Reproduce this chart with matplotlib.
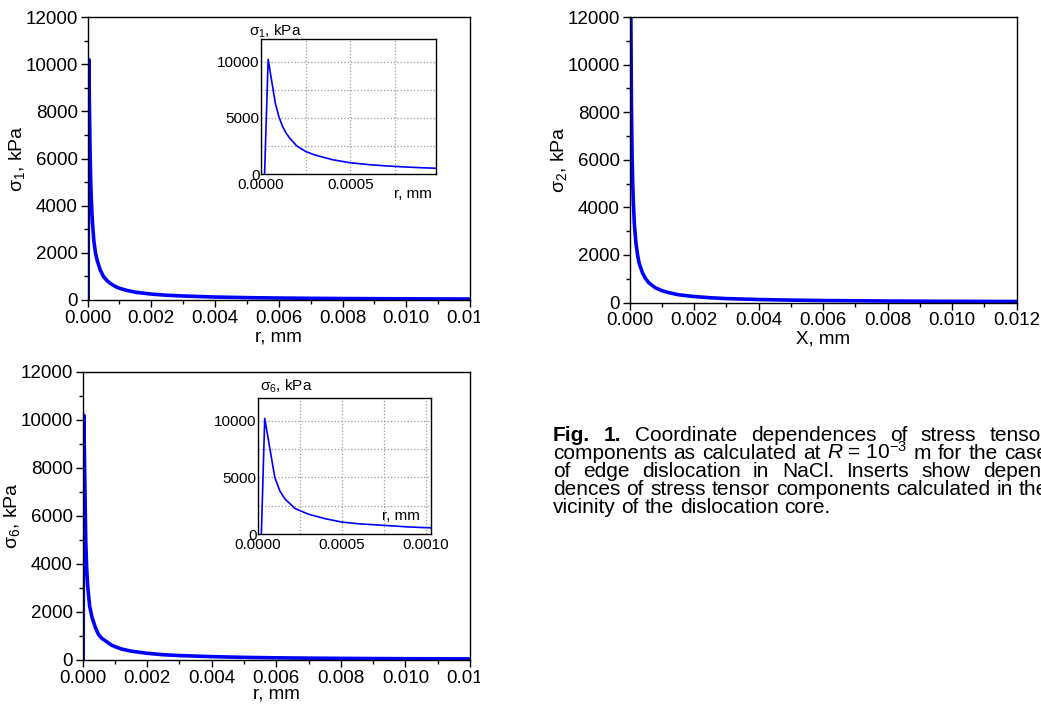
import numpy as np
import matplotlib
matplotlib.use("Agg")
import matplotlib.pyplot as plt
from matplotlib.ticker import FixedLocator, FormatStrFormatter
from matplotlib.transforms import Bbox, TransformedBbox

plt.rcParams['font.family'] = ['Liberation Sans', 'DejaVu Sans']
plt.rcParams['mathtext.fontset'] = 'custom'
plt.rcParams['mathtext.rm'] = 'Liberation Sans'
plt.rcParams['mathtext.it'] = 'Liberation Sans:italic'
plt.rcParams['mathtext.bf'] = 'Liberation Sans:bold'
plt.rcParams['mathtext.default'] = 'regular'

# sigma_1 vs r (mm), kPa
r1 = [0.00002, 0.00004, 0.00008, 0.0001, 0.00012, 0.00014, 0.00016, 0.0002, 0.00025,
      0.0003, 0.0004, 0.0005, 0.0006, 0.0007, 0.0008, 0.0009, 0.001, 0.0012, 0.0015,
      0.002, 0.0025, 0.003, 0.004, 0.005, 0.006, 0.007, 0.008, 0.009, 0.01, 0.011, 0.012]
s1 = [0, 10200, 6300, 5100, 4250, 3650, 3200, 2500, 2000,
      1700, 1270, 1000, 840, 720, 630, 555, 500, 420, 330,
      250, 200, 170, 125, 100, 83, 72, 62, 56, 50, 46, 42]

# sigma_2 vs X (mm), kPa
x2 = [0.00002, 0.00004, 0.00006, 0.00008, 0.0001, 0.00012, 0.00015, 0.0002, 0.00025,
      0.0003, 0.0004, 0.0005, 0.0006, 0.0008, 0.001, 0.0012, 0.0015, 0.002, 0.0025,
      0.003, 0.004, 0.005, 0.006, 0.008, 0.01, 0.012]
s2 = [25000, 12500, 8300, 6200, 5000, 4200, 3300, 2500, 2000,
      1650, 1250, 1000, 830, 620, 500, 420, 330, 250, 200,
      165, 125, 100, 83, 62, 50, 42]

# sigma_6 vs r (mm), kPa
r6 = [0.00002, 0.00004, 0.0001, 0.00013, 0.00016, 0.00022, 0.0003, 0.0004, 0.0005,
      0.0006, 0.00075, 0.0009, 0.001, 0.0012, 0.0015, 0.002, 0.0025, 0.003, 0.004,
      0.005, 0.006, 0.007, 0.008, 0.009, 0.01, 0.011, 0.012]
s6 = [0, 10200, 5000, 3800, 3100, 2250, 1750, 1350, 1050,
      900, 760, 620, 560, 460, 370, 280, 220, 185, 140,
      110, 90, 78, 68, 60, 54, 50, 46]

main_xticks = [0, 0.002, 0.004, 0.006, 0.008, 0.010, 0.012]
main_xminor = [0.001, 0.003, 0.005, 0.007, 0.009, 0.011]
main_yticks = [0, 2000, 4000, 6000, 8000, 10000, 12000]
main_yminor = [1000, 3000, 5000, 7000, 9000, 11000]
ins_yticks = [0, 5000, 10000]
ins_yminor = [2500, 7500]
ins_xminor = [0.00025, 0.00075]

caption = [
    [("Fig.", "bold"), ("1.", "bold"), ("Coordinate", "normal"), ("dependences", "normal"),
     ("of", "normal"), ("stress", "normal"), ("tensor", "normal")],
    [("components", "normal"), ("as", "normal"), ("calculated", "normal"), ("at", "normal"),
     (r"$\mathit{R}$ = 10$^{-3}$", "normal"), ("m", "normal"), ("for", "normal"),
     ("the", "normal"), ("case", "normal")],
    [("of", "normal"), ("edge", "normal"), ("dislocation", "normal"), ("in", "normal"),
     ("NaCl.", "normal"), ("Inserts", "normal"), ("show", "normal"), ("depen-", "normal")],
    [("dences", "normal"), ("of", "normal"), ("stress", "normal"), ("tensor", "normal"),
     ("components", "normal"), ("calculated", "normal"), ("in", "normal"), ("the", "normal")],
    [("vicinity", "normal"), ("of", "normal"), ("the", "normal"), ("dislocation", "normal"),
     ("core.", "normal")],
]

W, H = 1041, 709
BLUE = '#0000ff'
fig = plt.figure(figsize=(W / 100, H / 100), dpi=100)


def rect(l, t, r, b):
    return [l / W, 1 - b / H, (r - l) / W, (b - t) / H]


def main_axes(box, x, y, ylab, xlab, xlabpad):
    ax = fig.add_axes(rect(*box))
    ax.plot(x, y, color=BLUE, lw=2.6, solid_joinstyle='round')
    ax.set_xlim(0, 0.012)
    ax.set_ylim(0, 12000)
    ax.xaxis.set_major_locator(FixedLocator(main_xticks))
    ax.xaxis.set_minor_locator(FixedLocator(main_xminor))
    ax.yaxis.set_major_locator(FixedLocator(main_yticks))
    ax.yaxis.set_minor_locator(FixedLocator(main_yminor))
    ax.xaxis.set_major_formatter(FormatStrFormatter('%.3f'))
    ax.yaxis.set_major_formatter(FormatStrFormatter('%d'))
    ax.tick_params(which='major', direction='out', length=5, width=1,
                   labelsize=13.5, pad=2)
    ax.tick_params(which='minor', direction='out', length=3, width=1)
    for s in ax.spines.values():
        s.set_linewidth(1)
    ax.set_ylabel(ylab, fontsize=14, labelpad=-1)
    ax.set_xlabel(xlab, fontsize=13.5, labelpad=xlabpad)
    return ax


def inset_axes(box, x, y, xmax, xticks):
    ax = fig.add_axes(rect(*box))
    ax.plot(x, y, color=BLUE, lw=1.2)
    ax.set_xlim(0, xmax)
    ax.set_ylim(0, 12000)
    ax.xaxis.set_major_locator(FixedLocator(xticks))
    ax.xaxis.set_minor_locator(FixedLocator(ins_xminor))
    ax.yaxis.set_major_locator(FixedLocator(ins_yticks))
    ax.yaxis.set_minor_locator(FixedLocator(ins_yminor))
    ax.xaxis.set_major_formatter(FormatStrFormatter('%.4f'))
    ax.yaxis.set_major_formatter(FormatStrFormatter('%d'))
    ax.tick_params(which='both', direction='in', length=0, labelsize=11, pad=1)
    ax.tick_params(axis='x', pad=3)
    ax.grid(True, which='both', linestyle=':', color='#999999', linewidth=0.9)
    ax.set_axisbelow(True)
    for s in ax.spines.values():
        s.set_linewidth(1)
    return ax


ax1 = main_axes((87.5, 17, 470, 300), r1, s1, 'σ$_1$, kPa', 'r, mm', 1)
ax2 = main_axes((629.5, 17, 1016.5, 302.5), x2, s2, 'σ$_2$, kPa', 'X, mm', 1)
ax6 = main_axes((82.5, 372, 470, 660), r6, s6, 'σ$_6$, kPa', 'r, mm', -1)

in1 = inset_axes((261, 39, 436, 174), r1, s1, 0.00098, [0, 0.0005])
in1.text(0.00085, -1750, 'r, mm', fontsize=11, ha='center', va='center')
in6 = inset_axes((258, 398, 431, 534), r6, s6, 0.00103, [0, 0.0005, 0.001])
in6.text(0.00085, 1550, 'r, mm', fontsize=11, ha='center', va='center')

fig.text(249 / W, 1 - 31 / H, 'σ$_1$, kPa', fontsize=11, ha='left', va='center')
fig.text(260 / W, 1 - 386 / H, 'σ$_6$, kPa', fontsize=11, ha='left', va='center')

# left panels are cut off at the right edge in the source image
clip = TransformedBbox(Bbox([[0, 0], [480 / W, 1]]), fig.transFigure)
for ax in (ax1, ax6):
    lab = ax.xaxis.get_major_ticks()[-1].label1
    lab.set_clip_box(clip)
    lab.set_clip_on(True)

# justified caption
renderer = fig.canvas.get_renderer()
FS = 15
L, R = 553, 1048


def width(s, weight):
    t = fig.text(0, 0, s, fontsize=FS, fontweight=weight)
    w = t.get_window_extent(renderer).width
    t.remove()
    return w


space = width("a a", "normal") - 2 * width("a", "normal")
for i, line in enumerate(caption):
    ws = [width(w, wt) for w, wt in line]
    last = i == len(caption) - 1
    gap = space if last else (R - L - sum(ws)) / (len(ws) - 1)
    x = L
    y = 441 + 18.1 * i
    for (w, wt), wd in zip(line, ws):
        fig.text(x / W, 1 - y / H, w, fontsize=FS, fontweight=wt,
                 ha='left', va='baseline')
        x += wd + gap

fig.savefig('out.png', dpi=100)
